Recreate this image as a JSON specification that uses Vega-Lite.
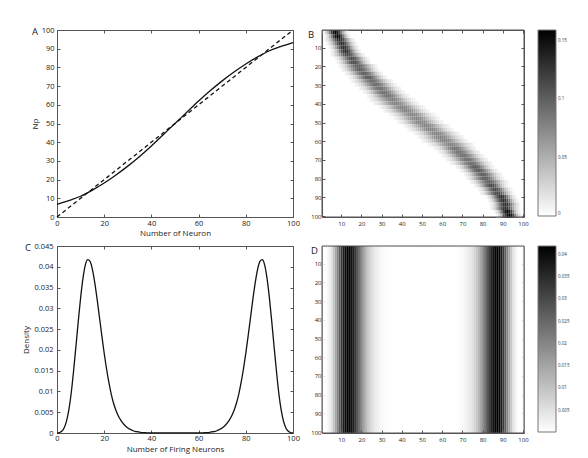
{
"$schema":"https://vega.github.io/schema/vega-lite/v6.json",
"background":"white",
"padding":{"left":22,"top":25,"right":0,"bottom":0},
"columns":2,
"spacing":{"row":29,"column":29},
"bounds":"flush",
"datasets":{
"fit":[{"n":0,"np":6.8},{"n":5,"np":8.8},{"n":10,"np":11.1},{"n":15,"np":14.4},{"n":20,"np":18.2},{"n":25,"np":22.5},{"n":30,"np":27.2},{"n":35,"np":32.4},{"n":40,"np":38.0},{"n":45,"np":44.0},{"n":50,"np":50.0},{"n":55,"np":56.0},{"n":60,"np":62.0},{"n":65,"np":67.6},{"n":70,"np":72.8},{"n":75,"np":77.5},{"n":80,"np":81.8},{"n":85,"np":85.6},{"n":90,"np":88.9},{"n":95,"np":91.2},{"n":100,"np":93.2}],
"diag":[{"n":0,"np":0},{"n":100,"np":100}],
"dens":[{"x":0,"v":0},{"x":1,"v":0.0001},{"x":2,"v":0.0004},{"x":3,"v":0.0012},{"x":4,"v":0.0028},{"x":5,"v":0.0055},{"x":6,"v":0.0095},{"x":7,"v":0.0148},{"x":8,"v":0.0207},{"x":9,"v":0.0268},{"x":10,"v":0.0325},{"x":11,"v":0.0372},{"x":12,"v":0.0404},{"x":13,"v":0.0417},{"x":14,"v":0.0413},{"x":15,"v":0.0394},{"x":16,"v":0.0362},{"x":17,"v":0.0322},{"x":18,"v":0.0278},{"x":19,"v":0.0234},{"x":20,"v":0.0192},{"x":21,"v":0.0154},{"x":22,"v":0.0121},{"x":23,"v":0.0093},{"x":24,"v":0.0071},{"x":25,"v":0.0054},{"x":26,"v":0.0041},{"x":27,"v":0.0031},{"x":28,"v":0.0023},{"x":29,"v":0.0017},{"x":30,"v":0.0012},{"x":31,"v":0.0009},{"x":32,"v":0.0006},{"x":33,"v":0.0004},{"x":34,"v":0.0003},{"x":35,"v":0.0002},{"x":36,"v":0.0001},{"x":37,"v":0.0001},{"x":38,"v":0.00005},{"x":39,"v":0.00003},{"x":40,"v":0.00002},{"x":41,"v":0.00002},{"x":42,"v":0.00002},{"x":43,"v":0.00002},{"x":44,"v":0.00002},{"x":45,"v":0.00001},{"x":46,"v":0.00001},{"x":47,"v":0.00001},{"x":48,"v":0.00001},{"x":49,"v":0.00001},{"x":50,"v":0.00001},{"x":51,"v":0.00001},{"x":52,"v":0.00001},{"x":53,"v":0.00001},{"x":54,"v":0.00001},{"x":55,"v":0.00001},{"x":56,"v":0.00002},{"x":57,"v":0.00002},{"x":58,"v":0.00002},{"x":59,"v":0.00002},{"x":60,"v":0.00002},{"x":61,"v":0.00003},{"x":62,"v":0.00005},{"x":63,"v":0.0001},{"x":64,"v":0.0001},{"x":65,"v":0.0002},{"x":66,"v":0.0003},{"x":67,"v":0.0004},{"x":68,"v":0.0006},{"x":69,"v":0.0009},{"x":70,"v":0.0012},{"x":71,"v":0.0017},{"x":72,"v":0.0023},{"x":73,"v":0.0031},{"x":74,"v":0.0041},{"x":75,"v":0.0054},{"x":76,"v":0.0071},{"x":77,"v":0.0093},{"x":78,"v":0.0121},{"x":79,"v":0.0154},{"x":80,"v":0.0192},{"x":81,"v":0.0234},{"x":82,"v":0.0278},{"x":83,"v":0.0322},{"x":84,"v":0.0362},{"x":85,"v":0.0394},{"x":86,"v":0.0413},{"x":87,"v":0.0417},{"x":88,"v":0.0404},{"x":89,"v":0.0372},{"x":90,"v":0.0325},{"x":91,"v":0.0268},{"x":92,"v":0.0207},{"x":93,"v":0.0148},{"x":94,"v":0.0095},{"x":95,"v":0.0055},{"x":96,"v":0.0028},{"x":97,"v":0.0012},{"x":98,"v":0.0004},{"x":99,"v":0.0001},{"x":100,"v":0}],
"heat":[
{"x":1,"y":1.5,"v":0.009},{"x":2,"y":1.5,"v":0.022},{"x":3,"y":1.5,"v":0.044},{"x":4,"y":1.5,"v":0.078},{"x":5,"y":1.5,"v":0.116},{"x":6,"y":1.5,"v":0.147},{"x":7,"y":1.5,"v":0.16},{"x":8,"y":1.5,"v":0.147},{"x":9,"y":1.5,"v":0.116},{"x":10,"y":1.5,"v":0.078},{"x":11,"y":1.5,"v":0.044},{"x":12,"y":1.5,"v":0.022},{"x":13,"y":1.5,"v":0.009},
{"x":2,"y":3.5,"v":0.009},{"x":3,"y":3.5,"v":0.022},{"x":4,"y":3.5,"v":0.044},{"x":5,"y":3.5,"v":0.078},{"x":6,"y":3.5,"v":0.116},{"x":7,"y":3.5,"v":0.147},{"x":8,"y":3.5,"v":0.16},{"x":9,"y":3.5,"v":0.147},{"x":10,"y":3.5,"v":0.116},{"x":11,"y":3.5,"v":0.078},{"x":12,"y":3.5,"v":0.044},{"x":13,"y":3.5,"v":0.022},{"x":14,"y":3.5,"v":0.009},
{"x":2,"y":5.5,"v":0.009},{"x":3,"y":5.5,"v":0.018},{"x":4,"y":5.5,"v":0.033},{"x":5,"y":5.5,"v":0.055},{"x":6,"y":5.5,"v":0.081},{"x":7,"y":5.5,"v":0.107},{"x":8,"y":5.5,"v":0.126},{"x":9,"y":5.5,"v":0.133},{"x":10,"y":5.5,"v":0.126},{"x":11,"y":5.5,"v":0.107},{"x":12,"y":5.5,"v":0.081},{"x":13,"y":5.5,"v":0.055},{"x":14,"y":5.5,"v":0.033},{"x":15,"y":5.5,"v":0.018},{"x":16,"y":5.5,"v":0.009},
{"x":3,"y":7.5,"v":0.009},{"x":4,"y":7.5,"v":0.018},{"x":5,"y":7.5,"v":0.033},{"x":6,"y":7.5,"v":0.055},{"x":7,"y":7.5,"v":0.081},{"x":8,"y":7.5,"v":0.107},{"x":9,"y":7.5,"v":0.126},{"x":10,"y":7.5,"v":0.133},{"x":11,"y":7.5,"v":0.126},{"x":12,"y":7.5,"v":0.107},{"x":13,"y":7.5,"v":0.081},{"x":14,"y":7.5,"v":0.055},{"x":15,"y":7.5,"v":0.033},{"x":16,"y":7.5,"v":0.018},{"x":17,"y":7.5,"v":0.009},
{"x":4,"y":9.5,"v":0.009},{"x":5,"y":9.5,"v":0.018},{"x":6,"y":9.5,"v":0.033},{"x":7,"y":9.5,"v":0.055},{"x":8,"y":9.5,"v":0.081},{"x":9,"y":9.5,"v":0.107},{"x":10,"y":9.5,"v":0.126},{"x":11,"y":9.5,"v":0.133},{"x":12,"y":9.5,"v":0.126},{"x":13,"y":9.5,"v":0.107},{"x":14,"y":9.5,"v":0.081},{"x":15,"y":9.5,"v":0.055},{"x":16,"y":9.5,"v":0.033},{"x":17,"y":9.5,"v":0.018},{"x":18,"y":9.5,"v":0.009},
{"x":5,"y":11.5,"v":0.009},{"x":6,"y":11.5,"v":0.018},{"x":7,"y":11.5,"v":0.033},{"x":8,"y":11.5,"v":0.055},{"x":9,"y":11.5,"v":0.081},{"x":10,"y":11.5,"v":0.107},{"x":11,"y":11.5,"v":0.126},{"x":12,"y":11.5,"v":0.133},{"x":13,"y":11.5,"v":0.126},{"x":14,"y":11.5,"v":0.107},{"x":15,"y":11.5,"v":0.081},{"x":16,"y":11.5,"v":0.055},{"x":17,"y":11.5,"v":0.033},{"x":18,"y":11.5,"v":0.018},{"x":19,"y":11.5,"v":0.009},
{"x":5,"y":13.5,"v":0.008},{"x":6,"y":13.5,"v":0.015},{"x":7,"y":13.5,"v":0.026},{"x":8,"y":13.5,"v":0.041},{"x":9,"y":13.5,"v":0.059},{"x":10,"y":13.5,"v":0.079},{"x":11,"y":13.5,"v":0.097},{"x":12,"y":13.5,"v":0.109},{"x":13,"y":13.5,"v":0.114},{"x":14,"y":13.5,"v":0.109},{"x":15,"y":13.5,"v":0.097},{"x":16,"y":13.5,"v":0.079},{"x":17,"y":13.5,"v":0.059},{"x":18,"y":13.5,"v":0.041},{"x":19,"y":13.5,"v":0.026},{"x":20,"y":13.5,"v":0.015},{"x":21,"y":13.5,"v":0.008},
{"x":7,"y":15.5,"v":0.008},{"x":8,"y":15.5,"v":0.015},{"x":9,"y":15.5,"v":0.026},{"x":10,"y":15.5,"v":0.041},{"x":11,"y":15.5,"v":0.059},{"x":12,"y":15.5,"v":0.079},{"x":13,"y":15.5,"v":0.097},{"x":14,"y":15.5,"v":0.109},{"x":15,"y":15.5,"v":0.114},{"x":16,"y":15.5,"v":0.109},{"x":17,"y":15.5,"v":0.097},{"x":18,"y":15.5,"v":0.079},{"x":19,"y":15.5,"v":0.059},{"x":20,"y":15.5,"v":0.041},{"x":21,"y":15.5,"v":0.026},{"x":22,"y":15.5,"v":0.015},{"x":23,"y":15.5,"v":0.008},
{"x":8,"y":17.5,"v":0.008},{"x":9,"y":17.5,"v":0.015},{"x":10,"y":17.5,"v":0.026},{"x":11,"y":17.5,"v":0.041},{"x":12,"y":17.5,"v":0.059},{"x":13,"y":17.5,"v":0.079},{"x":14,"y":17.5,"v":0.097},{"x":15,"y":17.5,"v":0.109},{"x":16,"y":17.5,"v":0.114},{"x":17,"y":17.5,"v":0.109},{"x":18,"y":17.5,"v":0.097},{"x":19,"y":17.5,"v":0.079},{"x":20,"y":17.5,"v":0.059},{"x":21,"y":17.5,"v":0.041},{"x":22,"y":17.5,"v":0.026},{"x":23,"y":17.5,"v":0.015},{"x":24,"y":17.5,"v":0.008},
{"x":9,"y":19.5,"v":0.008},{"x":10,"y":19.5,"v":0.013},{"x":11,"y":19.5,"v":0.022},{"x":12,"y":19.5,"v":0.032},{"x":13,"y":19.5,"v":0.046},{"x":14,"y":19.5,"v":0.061},{"x":15,"y":19.5,"v":0.075},{"x":16,"y":19.5,"v":0.088},{"x":17,"y":19.5,"v":0.097},{"x":18,"y":19.5,"v":0.1},{"x":19,"y":19.5,"v":0.097},{"x":20,"y":19.5,"v":0.088},{"x":21,"y":19.5,"v":0.075},{"x":22,"y":19.5,"v":0.061},{"x":23,"y":19.5,"v":0.046},{"x":24,"y":19.5,"v":0.032},{"x":25,"y":19.5,"v":0.022},{"x":26,"y":19.5,"v":0.013},{"x":27,"y":19.5,"v":0.008},
{"x":10,"y":21.5,"v":0.008},{"x":11,"y":21.5,"v":0.013},{"x":12,"y":21.5,"v":0.022},{"x":13,"y":21.5,"v":0.032},{"x":14,"y":21.5,"v":0.046},{"x":15,"y":21.5,"v":0.061},{"x":16,"y":21.5,"v":0.075},{"x":17,"y":21.5,"v":0.088},{"x":18,"y":21.5,"v":0.097},{"x":19,"y":21.5,"v":0.1},{"x":20,"y":21.5,"v":0.097},{"x":21,"y":21.5,"v":0.088},{"x":22,"y":21.5,"v":0.075},{"x":23,"y":21.5,"v":0.061},{"x":24,"y":21.5,"v":0.046},{"x":25,"y":21.5,"v":0.032},{"x":26,"y":21.5,"v":0.022},{"x":27,"y":21.5,"v":0.013},{"x":28,"y":21.5,"v":0.008},
{"x":12,"y":23.5,"v":0.008},{"x":13,"y":23.5,"v":0.013},{"x":14,"y":23.5,"v":0.022},{"x":15,"y":23.5,"v":0.032},{"x":16,"y":23.5,"v":0.046},{"x":17,"y":23.5,"v":0.061},{"x":18,"y":23.5,"v":0.075},{"x":19,"y":23.5,"v":0.088},{"x":20,"y":23.5,"v":0.097},{"x":21,"y":23.5,"v":0.1},{"x":22,"y":23.5,"v":0.097},{"x":23,"y":23.5,"v":0.088},{"x":24,"y":23.5,"v":0.075},{"x":25,"y":23.5,"v":0.061},{"x":26,"y":23.5,"v":0.046},{"x":27,"y":23.5,"v":0.032},{"x":28,"y":23.5,"v":0.022},{"x":29,"y":23.5,"v":0.013},{"x":30,"y":23.5,"v":0.008},
{"x":14,"y":25.5,"v":0.008},{"x":15,"y":25.5,"v":0.013},{"x":16,"y":25.5,"v":0.022},{"x":17,"y":25.5,"v":0.032},{"x":18,"y":25.5,"v":0.046},{"x":19,"y":25.5,"v":0.061},{"x":20,"y":25.5,"v":0.075},{"x":21,"y":25.5,"v":0.088},{"x":22,"y":25.5,"v":0.097},{"x":23,"y":25.5,"v":0.1},{"x":24,"y":25.5,"v":0.097},{"x":25,"y":25.5,"v":0.088},{"x":26,"y":25.5,"v":0.075},{"x":27,"y":25.5,"v":0.061},{"x":28,"y":25.5,"v":0.046},{"x":29,"y":25.5,"v":0.032},{"x":30,"y":25.5,"v":0.022},{"x":31,"y":25.5,"v":0.013},{"x":32,"y":25.5,"v":0.008},
{"x":15,"y":27.5,"v":0.008},{"x":16,"y":27.5,"v":0.012},{"x":17,"y":27.5,"v":0.018},{"x":18,"y":27.5,"v":0.026},{"x":19,"y":27.5,"v":0.036},{"x":20,"y":27.5,"v":0.048},{"x":21,"y":27.5,"v":0.06},{"x":22,"y":27.5,"v":0.071},{"x":23,"y":27.5,"v":0.08},{"x":24,"y":27.5,"v":0.087},{"x":25,"y":27.5,"v":0.089},{"x":26,"y":27.5,"v":0.087},{"x":27,"y":27.5,"v":0.08},{"x":28,"y":27.5,"v":0.071},{"x":29,"y":27.5,"v":0.06},{"x":30,"y":27.5,"v":0.048},{"x":31,"y":27.5,"v":0.036},{"x":32,"y":27.5,"v":0.026},{"x":33,"y":27.5,"v":0.018},{"x":34,"y":27.5,"v":0.012},{"x":35,"y":27.5,"v":0.008},
{"x":17,"y":29.5,"v":0.008},{"x":18,"y":29.5,"v":0.012},{"x":19,"y":29.5,"v":0.018},{"x":20,"y":29.5,"v":0.026},{"x":21,"y":29.5,"v":0.036},{"x":22,"y":29.5,"v":0.048},{"x":23,"y":29.5,"v":0.06},{"x":24,"y":29.5,"v":0.071},{"x":25,"y":29.5,"v":0.08},{"x":26,"y":29.5,"v":0.087},{"x":27,"y":29.5,"v":0.089},{"x":28,"y":29.5,"v":0.087},{"x":29,"y":29.5,"v":0.08},{"x":30,"y":29.5,"v":0.071},{"x":31,"y":29.5,"v":0.06},{"x":32,"y":29.5,"v":0.048},{"x":33,"y":29.5,"v":0.036},{"x":34,"y":29.5,"v":0.026},{"x":35,"y":29.5,"v":0.018},{"x":36,"y":29.5,"v":0.012},{"x":37,"y":29.5,"v":0.008},
{"x":19,"y":31.5,"v":0.008},{"x":20,"y":31.5,"v":0.012},{"x":21,"y":31.5,"v":0.018},{"x":22,"y":31.5,"v":0.026},{"x":23,"y":31.5,"v":0.036},{"x":24,"y":31.5,"v":0.048},{"x":25,"y":31.5,"v":0.06},{"x":26,"y":31.5,"v":0.071},{"x":27,"y":31.5,"v":0.08},{"x":28,"y":31.5,"v":0.087},{"x":29,"y":31.5,"v":0.089},{"x":30,"y":31.5,"v":0.087},{"x":31,"y":31.5,"v":0.08},{"x":32,"y":31.5,"v":0.071},{"x":33,"y":31.5,"v":0.06},{"x":34,"y":31.5,"v":0.048},{"x":35,"y":31.5,"v":0.036},{"x":36,"y":31.5,"v":0.026},{"x":37,"y":31.5,"v":0.018},{"x":38,"y":31.5,"v":0.012},{"x":39,"y":31.5,"v":0.008},
{"x":21,"y":33.5,"v":0.008},{"x":22,"y":33.5,"v":0.012},{"x":23,"y":33.5,"v":0.018},{"x":24,"y":33.5,"v":0.026},{"x":25,"y":33.5,"v":0.036},{"x":26,"y":33.5,"v":0.048},{"x":27,"y":33.5,"v":0.06},{"x":28,"y":33.5,"v":0.071},{"x":29,"y":33.5,"v":0.08},{"x":30,"y":33.5,"v":0.087},{"x":31,"y":33.5,"v":0.089},{"x":32,"y":33.5,"v":0.087},{"x":33,"y":33.5,"v":0.08},{"x":34,"y":33.5,"v":0.071},{"x":35,"y":33.5,"v":0.06},{"x":36,"y":33.5,"v":0.048},{"x":37,"y":33.5,"v":0.036},{"x":38,"y":33.5,"v":0.026},{"x":39,"y":33.5,"v":0.018},{"x":40,"y":33.5,"v":0.012},{"x":41,"y":33.5,"v":0.008},
{"x":23,"y":35.5,"v":0.008},{"x":24,"y":35.5,"v":0.012},{"x":25,"y":35.5,"v":0.018},{"x":26,"y":35.5,"v":0.026},{"x":27,"y":35.5,"v":0.036},{"x":28,"y":35.5,"v":0.048},{"x":29,"y":35.5,"v":0.06},{"x":30,"y":35.5,"v":0.071},{"x":31,"y":35.5,"v":0.08},{"x":32,"y":35.5,"v":0.087},{"x":33,"y":35.5,"v":0.089},{"x":34,"y":35.5,"v":0.087},{"x":35,"y":35.5,"v":0.08},{"x":36,"y":35.5,"v":0.071},{"x":37,"y":35.5,"v":0.06},{"x":38,"y":35.5,"v":0.048},{"x":39,"y":35.5,"v":0.036},{"x":40,"y":35.5,"v":0.026},{"x":41,"y":35.5,"v":0.018},{"x":42,"y":35.5,"v":0.012},{"x":43,"y":35.5,"v":0.008},
{"x":24,"y":37.5,"v":0.007},{"x":25,"y":37.5,"v":0.011},{"x":26,"y":37.5,"v":0.016},{"x":27,"y":37.5,"v":0.022},{"x":28,"y":37.5,"v":0.03},{"x":29,"y":37.5,"v":0.039},{"x":30,"y":37.5,"v":0.048},{"x":31,"y":37.5,"v":0.058},{"x":32,"y":37.5,"v":0.067},{"x":33,"y":37.5,"v":0.074},{"x":34,"y":37.5,"v":0.078},{"x":35,"y":37.5,"v":0.08},{"x":36,"y":37.5,"v":0.078},{"x":37,"y":37.5,"v":0.074},{"x":38,"y":37.5,"v":0.067},{"x":39,"y":37.5,"v":0.058},{"x":40,"y":37.5,"v":0.048},{"x":41,"y":37.5,"v":0.039},{"x":42,"y":37.5,"v":0.03},{"x":43,"y":37.5,"v":0.022},{"x":44,"y":37.5,"v":0.016},{"x":45,"y":37.5,"v":0.011},{"x":46,"y":37.5,"v":0.007},
{"x":26,"y":39.5,"v":0.007},{"x":27,"y":39.5,"v":0.011},{"x":28,"y":39.5,"v":0.016},{"x":29,"y":39.5,"v":0.022},{"x":30,"y":39.5,"v":0.03},{"x":31,"y":39.5,"v":0.039},{"x":32,"y":39.5,"v":0.048},{"x":33,"y":39.5,"v":0.058},{"x":34,"y":39.5,"v":0.067},{"x":35,"y":39.5,"v":0.074},{"x":36,"y":39.5,"v":0.078},{"x":37,"y":39.5,"v":0.08},{"x":38,"y":39.5,"v":0.078},{"x":39,"y":39.5,"v":0.074},{"x":40,"y":39.5,"v":0.067},{"x":41,"y":39.5,"v":0.058},{"x":42,"y":39.5,"v":0.048},{"x":43,"y":39.5,"v":0.039},{"x":44,"y":39.5,"v":0.03},{"x":45,"y":39.5,"v":0.022},{"x":46,"y":39.5,"v":0.016},{"x":47,"y":39.5,"v":0.011},{"x":48,"y":39.5,"v":0.007},
{"x":29,"y":41.5,"v":0.007},{"x":30,"y":41.5,"v":0.011},{"x":31,"y":41.5,"v":0.016},{"x":32,"y":41.5,"v":0.022},{"x":33,"y":41.5,"v":0.03},{"x":34,"y":41.5,"v":0.039},{"x":35,"y":41.5,"v":0.048},{"x":36,"y":41.5,"v":0.058},{"x":37,"y":41.5,"v":0.067},{"x":38,"y":41.5,"v":0.074},{"x":39,"y":41.5,"v":0.078},{"x":40,"y":41.5,"v":0.08},{"x":41,"y":41.5,"v":0.078},{"x":42,"y":41.5,"v":0.074},{"x":43,"y":41.5,"v":0.067},{"x":44,"y":41.5,"v":0.058},{"x":45,"y":41.5,"v":0.048},{"x":46,"y":41.5,"v":0.039},{"x":47,"y":41.5,"v":0.03},{"x":48,"y":41.5,"v":0.022},{"x":49,"y":41.5,"v":0.016},{"x":50,"y":41.5,"v":0.011},{"x":51,"y":41.5,"v":0.007},
{"x":31,"y":43.5,"v":0.007},{"x":32,"y":43.5,"v":0.011},{"x":33,"y":43.5,"v":0.016},{"x":34,"y":43.5,"v":0.022},{"x":35,"y":43.5,"v":0.03},{"x":36,"y":43.5,"v":0.039},{"x":37,"y":43.5,"v":0.048},{"x":38,"y":43.5,"v":0.058},{"x":39,"y":43.5,"v":0.067},{"x":40,"y":43.5,"v":0.074},{"x":41,"y":43.5,"v":0.078},{"x":42,"y":43.5,"v":0.08},{"x":43,"y":43.5,"v":0.078},{"x":44,"y":43.5,"v":0.074},{"x":45,"y":43.5,"v":0.067},{"x":46,"y":43.5,"v":0.058},{"x":47,"y":43.5,"v":0.048},{"x":48,"y":43.5,"v":0.039},{"x":49,"y":43.5,"v":0.03},{"x":50,"y":43.5,"v":0.022},{"x":51,"y":43.5,"v":0.016},{"x":52,"y":43.5,"v":0.011},{"x":53,"y":43.5,"v":0.007},
{"x":34,"y":45.5,"v":0.007},{"x":35,"y":45.5,"v":0.011},{"x":36,"y":45.5,"v":0.016},{"x":37,"y":45.5,"v":0.022},{"x":38,"y":45.5,"v":0.03},{"x":39,"y":45.5,"v":0.039},{"x":40,"y":45.5,"v":0.048},{"x":41,"y":45.5,"v":0.058},{"x":42,"y":45.5,"v":0.067},{"x":43,"y":45.5,"v":0.074},{"x":44,"y":45.5,"v":0.078},{"x":45,"y":45.5,"v":0.08},{"x":46,"y":45.5,"v":0.078},{"x":47,"y":45.5,"v":0.074},{"x":48,"y":45.5,"v":0.067},{"x":49,"y":45.5,"v":0.058},{"x":50,"y":45.5,"v":0.048},{"x":51,"y":45.5,"v":0.039},{"x":52,"y":45.5,"v":0.03},{"x":53,"y":45.5,"v":0.022},{"x":54,"y":45.5,"v":0.016},{"x":55,"y":45.5,"v":0.011},{"x":56,"y":45.5,"v":0.007},
{"x":36,"y":47.5,"v":0.007},{"x":37,"y":47.5,"v":0.011},{"x":38,"y":47.5,"v":0.016},{"x":39,"y":47.5,"v":0.022},{"x":40,"y":47.5,"v":0.03},{"x":41,"y":47.5,"v":0.039},{"x":42,"y":47.5,"v":0.048},{"x":43,"y":47.5,"v":0.058},{"x":44,"y":47.5,"v":0.067},{"x":45,"y":47.5,"v":0.074},{"x":46,"y":47.5,"v":0.078},{"x":47,"y":47.5,"v":0.08},{"x":48,"y":47.5,"v":0.078},{"x":49,"y":47.5,"v":0.074},{"x":50,"y":47.5,"v":0.067},{"x":51,"y":47.5,"v":0.058},{"x":52,"y":47.5,"v":0.048},{"x":53,"y":47.5,"v":0.039},{"x":54,"y":47.5,"v":0.03},{"x":55,"y":47.5,"v":0.022},{"x":56,"y":47.5,"v":0.016},{"x":57,"y":47.5,"v":0.011},{"x":58,"y":47.5,"v":0.007},
{"x":38,"y":49.5,"v":0.007},{"x":39,"y":49.5,"v":0.011},{"x":40,"y":49.5,"v":0.016},{"x":41,"y":49.5,"v":0.022},{"x":42,"y":49.5,"v":0.03},{"x":43,"y":49.5,"v":0.039},{"x":44,"y":49.5,"v":0.048},{"x":45,"y":49.5,"v":0.058},{"x":46,"y":49.5,"v":0.067},{"x":47,"y":49.5,"v":0.074},{"x":48,"y":49.5,"v":0.078},{"x":49,"y":49.5,"v":0.08},{"x":50,"y":49.5,"v":0.078},{"x":51,"y":49.5,"v":0.074},{"x":52,"y":49.5,"v":0.067},{"x":53,"y":49.5,"v":0.058},{"x":54,"y":49.5,"v":0.048},{"x":55,"y":49.5,"v":0.039},{"x":56,"y":49.5,"v":0.03},{"x":57,"y":49.5,"v":0.022},{"x":58,"y":49.5,"v":0.016},{"x":59,"y":49.5,"v":0.011},{"x":60,"y":49.5,"v":0.007},
{"x":41,"y":51.5,"v":0.007},{"x":42,"y":51.5,"v":0.011},{"x":43,"y":51.5,"v":0.016},{"x":44,"y":51.5,"v":0.022},{"x":45,"y":51.5,"v":0.03},{"x":46,"y":51.5,"v":0.039},{"x":47,"y":51.5,"v":0.048},{"x":48,"y":51.5,"v":0.058},{"x":49,"y":51.5,"v":0.067},{"x":50,"y":51.5,"v":0.074},{"x":51,"y":51.5,"v":0.078},{"x":52,"y":51.5,"v":0.08},{"x":53,"y":51.5,"v":0.078},{"x":54,"y":51.5,"v":0.074},{"x":55,"y":51.5,"v":0.067},{"x":56,"y":51.5,"v":0.058},{"x":57,"y":51.5,"v":0.048},{"x":58,"y":51.5,"v":0.039},{"x":59,"y":51.5,"v":0.03},{"x":60,"y":51.5,"v":0.022},{"x":61,"y":51.5,"v":0.016},{"x":62,"y":51.5,"v":0.011},{"x":63,"y":51.5,"v":0.007},
{"x":43,"y":53.5,"v":0.007},{"x":44,"y":53.5,"v":0.011},{"x":45,"y":53.5,"v":0.016},{"x":46,"y":53.5,"v":0.022},{"x":47,"y":53.5,"v":0.03},{"x":48,"y":53.5,"v":0.039},{"x":49,"y":53.5,"v":0.048},{"x":50,"y":53.5,"v":0.058},{"x":51,"y":53.5,"v":0.067},{"x":52,"y":53.5,"v":0.074},{"x":53,"y":53.5,"v":0.078},{"x":54,"y":53.5,"v":0.08},{"x":55,"y":53.5,"v":0.078},{"x":56,"y":53.5,"v":0.074},{"x":57,"y":53.5,"v":0.067},{"x":58,"y":53.5,"v":0.058},{"x":59,"y":53.5,"v":0.048},{"x":60,"y":53.5,"v":0.039},{"x":61,"y":53.5,"v":0.03},{"x":62,"y":53.5,"v":0.022},{"x":63,"y":53.5,"v":0.016},{"x":64,"y":53.5,"v":0.011},{"x":65,"y":53.5,"v":0.007},
{"x":46,"y":55.5,"v":0.007},{"x":47,"y":55.5,"v":0.011},{"x":48,"y":55.5,"v":0.016},{"x":49,"y":55.5,"v":0.022},{"x":50,"y":55.5,"v":0.03},{"x":51,"y":55.5,"v":0.039},{"x":52,"y":55.5,"v":0.048},{"x":53,"y":55.5,"v":0.058},{"x":54,"y":55.5,"v":0.067},{"x":55,"y":55.5,"v":0.074},{"x":56,"y":55.5,"v":0.078},{"x":57,"y":55.5,"v":0.08},{"x":58,"y":55.5,"v":0.078},{"x":59,"y":55.5,"v":0.074},{"x":60,"y":55.5,"v":0.067},{"x":61,"y":55.5,"v":0.058},{"x":62,"y":55.5,"v":0.048},{"x":63,"y":55.5,"v":0.039},{"x":64,"y":55.5,"v":0.03},{"x":65,"y":55.5,"v":0.022},{"x":66,"y":55.5,"v":0.016},{"x":67,"y":55.5,"v":0.011},{"x":68,"y":55.5,"v":0.007},
{"x":48,"y":57.5,"v":0.007},{"x":49,"y":57.5,"v":0.011},{"x":50,"y":57.5,"v":0.016},{"x":51,"y":57.5,"v":0.022},{"x":52,"y":57.5,"v":0.03},{"x":53,"y":57.5,"v":0.039},{"x":54,"y":57.5,"v":0.048},{"x":55,"y":57.5,"v":0.058},{"x":56,"y":57.5,"v":0.067},{"x":57,"y":57.5,"v":0.074},{"x":58,"y":57.5,"v":0.078},{"x":59,"y":57.5,"v":0.08},{"x":60,"y":57.5,"v":0.078},{"x":61,"y":57.5,"v":0.074},{"x":62,"y":57.5,"v":0.067},{"x":63,"y":57.5,"v":0.058},{"x":64,"y":57.5,"v":0.048},{"x":65,"y":57.5,"v":0.039},{"x":66,"y":57.5,"v":0.03},{"x":67,"y":57.5,"v":0.022},{"x":68,"y":57.5,"v":0.016},{"x":69,"y":57.5,"v":0.011},{"x":70,"y":57.5,"v":0.007},
{"x":50,"y":59.5,"v":0.007},{"x":51,"y":59.5,"v":0.011},{"x":52,"y":59.5,"v":0.016},{"x":53,"y":59.5,"v":0.022},{"x":54,"y":59.5,"v":0.03},{"x":55,"y":59.5,"v":0.039},{"x":56,"y":59.5,"v":0.048},{"x":57,"y":59.5,"v":0.058},{"x":58,"y":59.5,"v":0.067},{"x":59,"y":59.5,"v":0.074},{"x":60,"y":59.5,"v":0.078},{"x":61,"y":59.5,"v":0.08},{"x":62,"y":59.5,"v":0.078},{"x":63,"y":59.5,"v":0.074},{"x":64,"y":59.5,"v":0.067},{"x":65,"y":59.5,"v":0.058},{"x":66,"y":59.5,"v":0.048},{"x":67,"y":59.5,"v":0.039},{"x":68,"y":59.5,"v":0.03},{"x":69,"y":59.5,"v":0.022},{"x":70,"y":59.5,"v":0.016},{"x":71,"y":59.5,"v":0.011},{"x":72,"y":59.5,"v":0.007},
{"x":53,"y":61.5,"v":0.007},{"x":54,"y":61.5,"v":0.011},{"x":55,"y":61.5,"v":0.016},{"x":56,"y":61.5,"v":0.022},{"x":57,"y":61.5,"v":0.03},{"x":58,"y":61.5,"v":0.039},{"x":59,"y":61.5,"v":0.048},{"x":60,"y":61.5,"v":0.058},{"x":61,"y":61.5,"v":0.067},{"x":62,"y":61.5,"v":0.074},{"x":63,"y":61.5,"v":0.078},{"x":64,"y":61.5,"v":0.08},{"x":65,"y":61.5,"v":0.078},{"x":66,"y":61.5,"v":0.074},{"x":67,"y":61.5,"v":0.067},{"x":68,"y":61.5,"v":0.058},{"x":69,"y":61.5,"v":0.048},{"x":70,"y":61.5,"v":0.039},{"x":71,"y":61.5,"v":0.03},{"x":72,"y":61.5,"v":0.022},{"x":73,"y":61.5,"v":0.016},{"x":74,"y":61.5,"v":0.011},{"x":75,"y":61.5,"v":0.007},
{"x":56,"y":63.5,"v":0.008},{"x":57,"y":63.5,"v":0.012},{"x":58,"y":63.5,"v":0.018},{"x":59,"y":63.5,"v":0.026},{"x":60,"y":63.5,"v":0.036},{"x":61,"y":63.5,"v":0.048},{"x":62,"y":63.5,"v":0.06},{"x":63,"y":63.5,"v":0.071},{"x":64,"y":63.5,"v":0.08},{"x":65,"y":63.5,"v":0.087},{"x":66,"y":63.5,"v":0.089},{"x":67,"y":63.5,"v":0.087},{"x":68,"y":63.5,"v":0.08},{"x":69,"y":63.5,"v":0.071},{"x":70,"y":63.5,"v":0.06},{"x":71,"y":63.5,"v":0.048},{"x":72,"y":63.5,"v":0.036},{"x":73,"y":63.5,"v":0.026},{"x":74,"y":63.5,"v":0.018},{"x":75,"y":63.5,"v":0.012},{"x":76,"y":63.5,"v":0.008},
{"x":58,"y":65.5,"v":0.008},{"x":59,"y":65.5,"v":0.012},{"x":60,"y":65.5,"v":0.018},{"x":61,"y":65.5,"v":0.026},{"x":62,"y":65.5,"v":0.036},{"x":63,"y":65.5,"v":0.048},{"x":64,"y":65.5,"v":0.06},{"x":65,"y":65.5,"v":0.071},{"x":66,"y":65.5,"v":0.08},{"x":67,"y":65.5,"v":0.087},{"x":68,"y":65.5,"v":0.089},{"x":69,"y":65.5,"v":0.087},{"x":70,"y":65.5,"v":0.08},{"x":71,"y":65.5,"v":0.071},{"x":72,"y":65.5,"v":0.06},{"x":73,"y":65.5,"v":0.048},{"x":74,"y":65.5,"v":0.036},{"x":75,"y":65.5,"v":0.026},{"x":76,"y":65.5,"v":0.018},{"x":77,"y":65.5,"v":0.012},{"x":78,"y":65.5,"v":0.008},
{"x":60,"y":67.5,"v":0.008},{"x":61,"y":67.5,"v":0.012},{"x":62,"y":67.5,"v":0.018},{"x":63,"y":67.5,"v":0.026},{"x":64,"y":67.5,"v":0.036},{"x":65,"y":67.5,"v":0.048},{"x":66,"y":67.5,"v":0.06},{"x":67,"y":67.5,"v":0.071},{"x":68,"y":67.5,"v":0.08},{"x":69,"y":67.5,"v":0.087},{"x":70,"y":67.5,"v":0.089},{"x":71,"y":67.5,"v":0.087},{"x":72,"y":67.5,"v":0.08},{"x":73,"y":67.5,"v":0.071},{"x":74,"y":67.5,"v":0.06},{"x":75,"y":67.5,"v":0.048},{"x":76,"y":67.5,"v":0.036},{"x":77,"y":67.5,"v":0.026},{"x":78,"y":67.5,"v":0.018},{"x":79,"y":67.5,"v":0.012},{"x":80,"y":67.5,"v":0.008},
{"x":62,"y":69.5,"v":0.008},{"x":63,"y":69.5,"v":0.012},{"x":64,"y":69.5,"v":0.018},{"x":65,"y":69.5,"v":0.026},{"x":66,"y":69.5,"v":0.036},{"x":67,"y":69.5,"v":0.048},{"x":68,"y":69.5,"v":0.06},{"x":69,"y":69.5,"v":0.071},{"x":70,"y":69.5,"v":0.08},{"x":71,"y":69.5,"v":0.087},{"x":72,"y":69.5,"v":0.089},{"x":73,"y":69.5,"v":0.087},{"x":74,"y":69.5,"v":0.08},{"x":75,"y":69.5,"v":0.071},{"x":76,"y":69.5,"v":0.06},{"x":77,"y":69.5,"v":0.048},{"x":78,"y":69.5,"v":0.036},{"x":79,"y":69.5,"v":0.026},{"x":80,"y":69.5,"v":0.018},{"x":81,"y":69.5,"v":0.012},{"x":82,"y":69.5,"v":0.008},
{"x":64,"y":71.5,"v":0.008},{"x":65,"y":71.5,"v":0.012},{"x":66,"y":71.5,"v":0.018},{"x":67,"y":71.5,"v":0.026},{"x":68,"y":71.5,"v":0.036},{"x":69,"y":71.5,"v":0.048},{"x":70,"y":71.5,"v":0.06},{"x":71,"y":71.5,"v":0.071},{"x":72,"y":71.5,"v":0.08},{"x":73,"y":71.5,"v":0.087},{"x":74,"y":71.5,"v":0.089},{"x":75,"y":71.5,"v":0.087},{"x":76,"y":71.5,"v":0.08},{"x":77,"y":71.5,"v":0.071},{"x":78,"y":71.5,"v":0.06},{"x":79,"y":71.5,"v":0.048},{"x":80,"y":71.5,"v":0.036},{"x":81,"y":71.5,"v":0.026},{"x":82,"y":71.5,"v":0.018},{"x":83,"y":71.5,"v":0.012},{"x":84,"y":71.5,"v":0.008},
{"x":67,"y":73.5,"v":0.008},{"x":68,"y":73.5,"v":0.013},{"x":69,"y":73.5,"v":0.022},{"x":70,"y":73.5,"v":0.032},{"x":71,"y":73.5,"v":0.046},{"x":72,"y":73.5,"v":0.061},{"x":73,"y":73.5,"v":0.075},{"x":74,"y":73.5,"v":0.088},{"x":75,"y":73.5,"v":0.097},{"x":76,"y":73.5,"v":0.1},{"x":77,"y":73.5,"v":0.097},{"x":78,"y":73.5,"v":0.088},{"x":79,"y":73.5,"v":0.075},{"x":80,"y":73.5,"v":0.061},{"x":81,"y":73.5,"v":0.046},{"x":82,"y":73.5,"v":0.032},{"x":83,"y":73.5,"v":0.022},{"x":84,"y":73.5,"v":0.013},{"x":85,"y":73.5,"v":0.008},
{"x":69,"y":75.5,"v":0.008},{"x":70,"y":75.5,"v":0.013},{"x":71,"y":75.5,"v":0.022},{"x":72,"y":75.5,"v":0.032},{"x":73,"y":75.5,"v":0.046},{"x":74,"y":75.5,"v":0.061},{"x":75,"y":75.5,"v":0.075},{"x":76,"y":75.5,"v":0.088},{"x":77,"y":75.5,"v":0.097},{"x":78,"y":75.5,"v":0.1},{"x":79,"y":75.5,"v":0.097},{"x":80,"y":75.5,"v":0.088},{"x":81,"y":75.5,"v":0.075},{"x":82,"y":75.5,"v":0.061},{"x":83,"y":75.5,"v":0.046},{"x":84,"y":75.5,"v":0.032},{"x":85,"y":75.5,"v":0.022},{"x":86,"y":75.5,"v":0.013},{"x":87,"y":75.5,"v":0.008},
{"x":71,"y":77.5,"v":0.008},{"x":72,"y":77.5,"v":0.013},{"x":73,"y":77.5,"v":0.022},{"x":74,"y":77.5,"v":0.032},{"x":75,"y":77.5,"v":0.046},{"x":76,"y":77.5,"v":0.061},{"x":77,"y":77.5,"v":0.075},{"x":78,"y":77.5,"v":0.088},{"x":79,"y":77.5,"v":0.097},{"x":80,"y":77.5,"v":0.1},{"x":81,"y":77.5,"v":0.097},{"x":82,"y":77.5,"v":0.088},{"x":83,"y":77.5,"v":0.075},{"x":84,"y":77.5,"v":0.061},{"x":85,"y":77.5,"v":0.046},{"x":86,"y":77.5,"v":0.032},{"x":87,"y":77.5,"v":0.022},{"x":88,"y":77.5,"v":0.013},{"x":89,"y":77.5,"v":0.008},
{"x":72,"y":79.5,"v":0.008},{"x":73,"y":79.5,"v":0.013},{"x":74,"y":79.5,"v":0.022},{"x":75,"y":79.5,"v":0.032},{"x":76,"y":79.5,"v":0.046},{"x":77,"y":79.5,"v":0.061},{"x":78,"y":79.5,"v":0.075},{"x":79,"y":79.5,"v":0.088},{"x":80,"y":79.5,"v":0.097},{"x":81,"y":79.5,"v":0.1},{"x":82,"y":79.5,"v":0.097},{"x":83,"y":79.5,"v":0.088},{"x":84,"y":79.5,"v":0.075},{"x":85,"y":79.5,"v":0.061},{"x":86,"y":79.5,"v":0.046},{"x":87,"y":79.5,"v":0.032},{"x":88,"y":79.5,"v":0.022},{"x":89,"y":79.5,"v":0.013},{"x":90,"y":79.5,"v":0.008},
{"x":74,"y":81.5,"v":0.008},{"x":75,"y":81.5,"v":0.013},{"x":76,"y":81.5,"v":0.022},{"x":77,"y":81.5,"v":0.032},{"x":78,"y":81.5,"v":0.046},{"x":79,"y":81.5,"v":0.061},{"x":80,"y":81.5,"v":0.075},{"x":81,"y":81.5,"v":0.088},{"x":82,"y":81.5,"v":0.097},{"x":83,"y":81.5,"v":0.1},{"x":84,"y":81.5,"v":0.097},{"x":85,"y":81.5,"v":0.088},{"x":86,"y":81.5,"v":0.075},{"x":87,"y":81.5,"v":0.061},{"x":88,"y":81.5,"v":0.046},{"x":89,"y":81.5,"v":0.032},{"x":90,"y":81.5,"v":0.022},{"x":91,"y":81.5,"v":0.013},{"x":92,"y":81.5,"v":0.008},
{"x":76,"y":83.5,"v":0.008},{"x":77,"y":83.5,"v":0.015},{"x":78,"y":83.5,"v":0.026},{"x":79,"y":83.5,"v":0.041},{"x":80,"y":83.5,"v":0.059},{"x":81,"y":83.5,"v":0.079},{"x":82,"y":83.5,"v":0.097},{"x":83,"y":83.5,"v":0.109},{"x":84,"y":83.5,"v":0.114},{"x":85,"y":83.5,"v":0.109},{"x":86,"y":83.5,"v":0.097},{"x":87,"y":83.5,"v":0.079},{"x":88,"y":83.5,"v":0.059},{"x":89,"y":83.5,"v":0.041},{"x":90,"y":83.5,"v":0.026},{"x":91,"y":83.5,"v":0.015},{"x":92,"y":83.5,"v":0.008},
{"x":78,"y":85.5,"v":0.008},{"x":79,"y":85.5,"v":0.015},{"x":80,"y":85.5,"v":0.026},{"x":81,"y":85.5,"v":0.041},{"x":82,"y":85.5,"v":0.059},{"x":83,"y":85.5,"v":0.079},{"x":84,"y":85.5,"v":0.097},{"x":85,"y":85.5,"v":0.109},{"x":86,"y":85.5,"v":0.114},{"x":87,"y":85.5,"v":0.109},{"x":88,"y":85.5,"v":0.097},{"x":89,"y":85.5,"v":0.079},{"x":90,"y":85.5,"v":0.059},{"x":91,"y":85.5,"v":0.041},{"x":92,"y":85.5,"v":0.026},{"x":93,"y":85.5,"v":0.015},{"x":94,"y":85.5,"v":0.008},
{"x":79,"y":87.5,"v":0.008},{"x":80,"y":87.5,"v":0.015},{"x":81,"y":87.5,"v":0.026},{"x":82,"y":87.5,"v":0.041},{"x":83,"y":87.5,"v":0.059},{"x":84,"y":87.5,"v":0.079},{"x":85,"y":87.5,"v":0.097},{"x":86,"y":87.5,"v":0.109},{"x":87,"y":87.5,"v":0.114},{"x":88,"y":87.5,"v":0.109},{"x":89,"y":87.5,"v":0.097},{"x":90,"y":87.5,"v":0.079},{"x":91,"y":87.5,"v":0.059},{"x":92,"y":87.5,"v":0.041},{"x":93,"y":87.5,"v":0.026},{"x":94,"y":87.5,"v":0.015},{"x":95,"y":87.5,"v":0.008},
{"x":82,"y":89.5,"v":0.009},{"x":83,"y":89.5,"v":0.018},{"x":84,"y":89.5,"v":0.033},{"x":85,"y":89.5,"v":0.055},{"x":86,"y":89.5,"v":0.081},{"x":87,"y":89.5,"v":0.107},{"x":88,"y":89.5,"v":0.126},{"x":89,"y":89.5,"v":0.133},{"x":90,"y":89.5,"v":0.126},{"x":91,"y":89.5,"v":0.107},{"x":92,"y":89.5,"v":0.081},{"x":93,"y":89.5,"v":0.055},{"x":94,"y":89.5,"v":0.033},{"x":95,"y":89.5,"v":0.018},{"x":96,"y":89.5,"v":0.009},
{"x":83,"y":91.5,"v":0.009},{"x":84,"y":91.5,"v":0.018},{"x":85,"y":91.5,"v":0.033},{"x":86,"y":91.5,"v":0.055},{"x":87,"y":91.5,"v":0.081},{"x":88,"y":91.5,"v":0.107},{"x":89,"y":91.5,"v":0.126},{"x":90,"y":91.5,"v":0.133},{"x":91,"y":91.5,"v":0.126},{"x":92,"y":91.5,"v":0.107},{"x":93,"y":91.5,"v":0.081},{"x":94,"y":91.5,"v":0.055},{"x":95,"y":91.5,"v":0.033},{"x":96,"y":91.5,"v":0.018},{"x":97,"y":91.5,"v":0.009},
{"x":84,"y":93.5,"v":0.009},{"x":85,"y":93.5,"v":0.018},{"x":86,"y":93.5,"v":0.033},{"x":87,"y":93.5,"v":0.055},{"x":88,"y":93.5,"v":0.081},{"x":89,"y":93.5,"v":0.107},{"x":90,"y":93.5,"v":0.126},{"x":91,"y":93.5,"v":0.133},{"x":92,"y":93.5,"v":0.126},{"x":93,"y":93.5,"v":0.107},{"x":94,"y":93.5,"v":0.081},{"x":95,"y":93.5,"v":0.055},{"x":96,"y":93.5,"v":0.033},{"x":97,"y":93.5,"v":0.018},{"x":98,"y":93.5,"v":0.009},
{"x":84,"y":95.5,"v":0.009},{"x":85,"y":95.5,"v":0.018},{"x":86,"y":95.5,"v":0.033},{"x":87,"y":95.5,"v":0.055},{"x":88,"y":95.5,"v":0.081},{"x":89,"y":95.5,"v":0.107},{"x":90,"y":95.5,"v":0.126},{"x":91,"y":95.5,"v":0.133},{"x":92,"y":95.5,"v":0.126},{"x":93,"y":95.5,"v":0.107},{"x":94,"y":95.5,"v":0.081},{"x":95,"y":95.5,"v":0.055},{"x":96,"y":95.5,"v":0.033},{"x":97,"y":95.5,"v":0.018},{"x":98,"y":95.5,"v":0.009},
{"x":86,"y":97.5,"v":0.009},{"x":87,"y":97.5,"v":0.022},{"x":88,"y":97.5,"v":0.044},{"x":89,"y":97.5,"v":0.078},{"x":90,"y":97.5,"v":0.116},{"x":91,"y":97.5,"v":0.147},{"x":92,"y":97.5,"v":0.16},{"x":93,"y":97.5,"v":0.147},{"x":94,"y":97.5,"v":0.116},{"x":95,"y":97.5,"v":0.078},{"x":96,"y":97.5,"v":0.044},{"x":97,"y":97.5,"v":0.022},{"x":98,"y":97.5,"v":0.009},
{"x":87,"y":99.5,"v":0.009},{"x":88,"y":99.5,"v":0.022},{"x":89,"y":99.5,"v":0.044},{"x":90,"y":99.5,"v":0.078},{"x":91,"y":99.5,"v":0.116},{"x":92,"y":99.5,"v":0.147},{"x":93,"y":99.5,"v":0.16},{"x":94,"y":99.5,"v":0.147},{"x":95,"y":99.5,"v":0.116},{"x":96,"y":99.5,"v":0.078},{"x":97,"y":99.5,"v":0.044},{"x":98,"y":99.5,"v":0.022},{"x":99,"y":99.5,"v":0.009}
]
},
"concat":[
{
"width":236,"height":187,
"title":{"text":"A","anchor":"start","frame":"group","orient":"top","baseline":"top","offset":0,"dx":-25,"dy":10,"fontSize":9.5,"fontWeight":"normal","color":"#222"},
"layer":[
{"data":{"name":"fit"},"mark":{"type":"line","color":"#111","strokeWidth":1.3,"interpolate":"monotone"},
"encoding":{
"x":{"field":"n","type":"quantitative","scale":{"domain":[0,100],"nice":false,"zero":false},"axis":{"title":"Number of Neuron","values":[0,20,40,60,80,100],"labelFontSize":7.5,"titleFontSize":8,"labelPadding":5,"titlePadding":3}},
"y":{"field":"np","type":"quantitative","scale":{"domain":[0,100],"nice":false},"axis":{"title":"Np","values":[0,10,20,30,40,50,60,70,80,90,100],"labelFontSize":7.5,"titleFontSize":8,"labelPadding":6,"titlePadding":2}}}},
{"data":{"name":"diag"},"mark":{"type":"line","color":"#111","strokeWidth":1.3,"strokeDash":[4,3]},
"encoding":{
"x":{"field":"n","type":"quantitative","axis":{"orient":"top","labels":false,"title":null,"values":[0,20,40,60,80,100]}},
"y":{"field":"np","type":"quantitative","axis":{"orient":"right","labels":false,"title":null,"values":[0,10,20,30,40,50,60,70,80,90,100]}}}}
],
"resolve":{"axis":{"x":"independent","y":"independent"}}
},
{
"width":202,"height":187,
"title":{"text":"B","anchor":"start","frame":"group","orient":"top","baseline":"top","offset":0,"dx":-14,"dy":10,"fontSize":9.5,"fontWeight":"normal","color":"#222"},
"layer":[
{"data":{"name":"heat"},"mark":{"type":"rect","binSpacing":0,"strokeWidth":0},
"encoding":{
"x":{"field":"x","type":"quantitative","bin":{"step":1,"extent":[0.5,100.5],"nice":false},"scale":{"domain":[0.5,100.5],"nice":false,"zero":false},"axis":{"title":null,"values":[10,20,30,40,50,60,70,80,90,100],"format":"d","labelFontSize":6,"labelPadding":6}},
"y":{"field":"y","type":"quantitative","bin":{"step":2,"extent":[0.5,100.5],"nice":false},"scale":{"domain":[0.5,100.5],"nice":false,"zero":false,"reverse":true},"axis":{"title":null,"values":[10,20,30,40,50,60,70,80,90,100],"format":"d","labelFontSize":6,"labelPadding":4}},
"color":{"field":"v","type":"quantitative","scale":{"domain":[0,0.159],"range":["#ffffff","#000000"],"interpolate":"rgb"},
"legend":{"title":null,"orient":"right","offset":13,"gradientLength":186,"gradientThickness":18,"values":[0,0.05,0.1,0.15],"format":".2~f","labelFontSize":4.5,"labelOverlap":false,"labelOffset":2,"labelFlush":false,"gradientStrokeColor":"#777","gradientStrokeWidth":1,"labelColor":"#333"}}}},
{"data":{"name":"diag"},"transform":[{"filter":"datum.n == 0"}],"mark":{"type":"rect","fill":null,"filled":false,"stroke":"#555","strokeWidth":1},
"encoding":{
"x":{"datum":0.5,"type":"quantitative","axis":{"orient":"top","labels":false,"title":null,"values":[10,20,30,40,50,60,70,80,90,100]}},
"x2":{"datum":100.5},
"y":{"datum":0.5,"type":"quantitative","axis":{"orient":"right","labels":false,"title":null,"values":[10,20,30,40,50,60,70,80,90,100]}},
"y2":{"datum":100.5}}}
],
"resolve":{"axis":{"x":"independent","y":"independent"}}
},
{
"width":236,"height":187,
"title":{"text":"C","anchor":"start","frame":"group","orient":"top","baseline":"top","offset":0,"dx":-32,"dy":10,"fontSize":9.5,"fontWeight":"normal","color":"#222"},
"layer":[
{"data":{"name":"dens"},"mark":{"type":"line","color":"#111","strokeWidth":1.3,"interpolate":"monotone"},
"encoding":{
"x":{"field":"x","type":"quantitative","scale":{"domain":[0,100],"nice":false,"zero":false},"axis":{"title":"Number of Firing Neurons","values":[0,20,40,60,80,100],"labelFontSize":7.5,"titleFontSize":8,"labelPadding":4,"titlePadding":4}},
"y":{"field":"v","type":"quantitative","scale":{"domain":[0,0.045],"nice":false},"axis":{"title":"Density","values":[0,0.005,0.01,0.015,0.02,0.025,0.03,0.035,0.04,0.045],"format":".3~f","labelFontSize":7.5,"titleFontSize":8,"labelPadding":7,"titlePadding":3}}}},
{"data":{"name":"dens"},"mark":{"type":"line","opacity":0},
"encoding":{
"x":{"field":"x","type":"quantitative","axis":{"orient":"top","labels":false,"title":null,"values":[0,20,40,60,80,100]}},
"y":{"field":"v","type":"quantitative","axis":{"orient":"right","labels":false,"title":null,"values":[0,0.005,0.01,0.015,0.02,0.025,0.03,0.035,0.04,0.045]}}}}
],
"resolve":{"axis":{"x":"independent","y":"independent"}}
},
{
"width":202,"height":187,
"title":{"text":"D","anchor":"start","frame":"group","orient":"top","baseline":"top","offset":0,"dx":-11,"dy":10,"fontSize":9.5,"fontWeight":"normal","color":"#222"},
"layer":[
{"data":{"name":"dens"},"transform":[{"filter":"datum.x >= 1"}],"mark":{"type":"rect","binSpacing":0,"strokeWidth":0},
"encoding":{
"x":{"field":"x","type":"quantitative","bin":{"step":1,"extent":[0.5,100.5],"nice":false},"scale":{"domain":[0.5,100.5],"nice":false,"zero":false},"axis":{"title":null,"values":[10,20,30,40,50,60,70,80,90,100],"format":"d","labelFontSize":6,"labelPadding":6}},
"y":{"datum":0.5,"type":"quantitative","scale":{"domain":[0.5,100.5],"nice":false,"zero":false,"reverse":true},"axis":{"title":null,"values":[10,20,30,40,50,60,70,80,90,100],"format":"d","labelFontSize":6,"labelPadding":4}},
"y2":{"datum":100.5},
"color":{"field":"v","type":"quantitative","scale":{"domain":[0.0002,0.042],"range":["#ffffff","#000000"],"interpolate":"rgb","clamp":true},
"legend":{"title":null,"orient":"right","offset":13,"gradientLength":186,"gradientThickness":18,"values":[0.005,0.01,0.015,0.02,0.025,0.03,0.035,0.04],"format":".3~f","labelFontSize":4.5,"labelOverlap":false,"labelOffset":2,"labelFlush":false,"gradientStrokeColor":"#777","gradientStrokeWidth":1,"labelColor":"#333"}}}},
{"data":{"name":"diag"},"transform":[{"filter":"datum.n == 0"}],"mark":{"type":"rect","fill":null,"filled":false,"stroke":"#555","strokeWidth":1},
"encoding":{
"x":{"datum":0.5,"type":"quantitative","axis":{"orient":"top","labels":false,"title":null,"values":[10,20,30,40,50,60,70,80,90,100]}},
"x2":{"datum":100.5},
"y":{"datum":0.5,"type":"quantitative","axis":{"orient":"right","labels":false,"title":null,"values":[10,20,30,40,50,60,70,80,90,100]}},
"y2":{"datum":100.5}}}
],
"resolve":{"axis":{"x":"independent","y":"independent"}}
}
],
"resolve":{"scale":{"color":"independent"},"legend":{"color":"independent"}},
"config":{
"font":"Open Sans",
"view":{"stroke":"#555","strokeWidth":1},
"axis":{"domain":false,"grid":false,"ticks":true,"tickSize":-3,"tickColor":"#555","labelFont":"Open Sans","labelColor":"#222","labelFlush":false,"labelOverlap":false,"labelBound":false,"titleFont":"Open Sans","titleFontWeight":"normal","titleColor":"#222"},
"legend":{"labelFont":"Open Sans"},
"title":{"font":"Open Sans"}
}
}
